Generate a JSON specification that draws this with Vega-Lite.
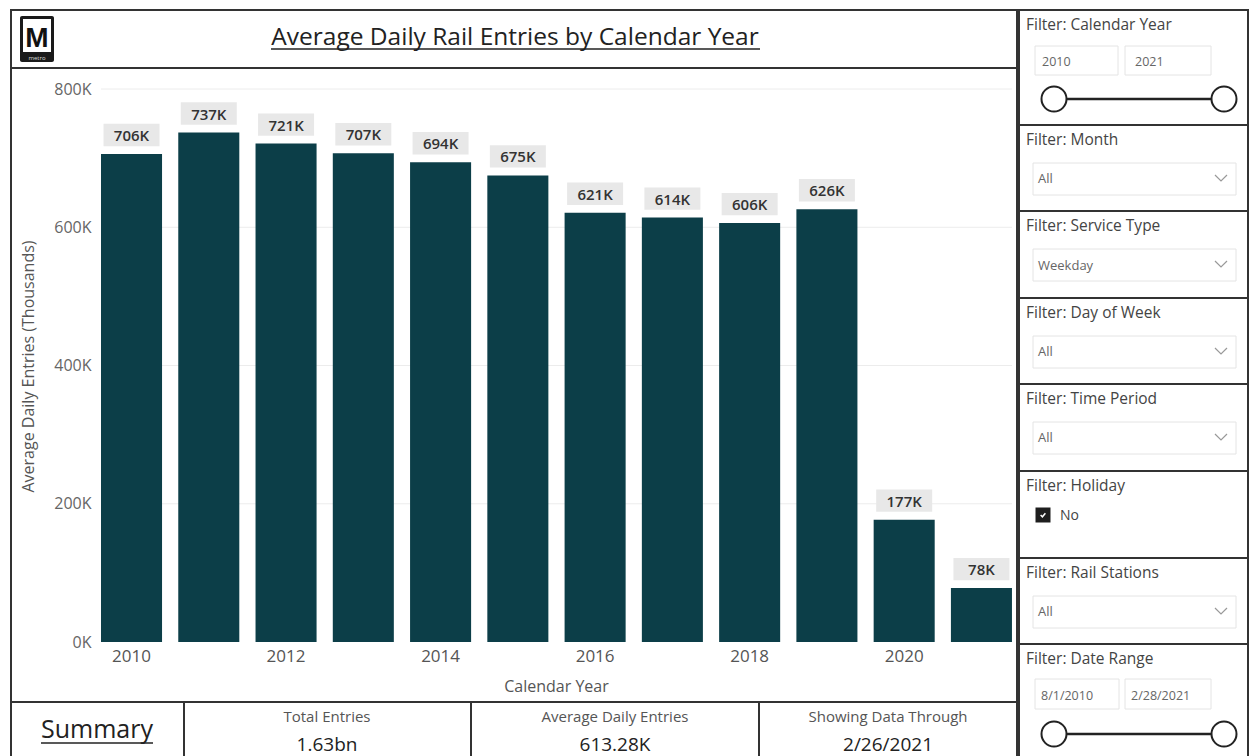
{
  "$schema": "https://vega.github.io/schema/vega-lite/v6.json",
  "background": "white",
  "padding": {"left": 9, "top": 8, "right": 0, "bottom": 0},
  "config": {
    "font": "Open Sans",
    "view": {"stroke": "#333333", "strokeWidth": 2},
    "concat": {"spacing": 0}
  },
  "spacing": -2,
  "hconcat": [
    {
      "spacing": 0,
      "bounds": "flush",
      "vconcat": [
        {
          "width": 1006,
          "height": 58,
          "data": {"values": [{"heading": "Average Daily Rail Entries by Calendar Year", "logo": "M", "brand": "metro"}]},
          "layer": [
            {"mark": {"type": "rect", "fill": null, "stroke": "#333333", "strokeWidth": 2, "x": 0, "x2": "width", "y": 0, "y2": "height"}, "encoding": {}},
            {"mark": {"type": "rect", "fill": "#1a1a1a", "cornerRadius": 2, "x": 9, "x2": 43, "y": 6, "y2": 52}, "encoding": {}},
            {"mark": {"type": "rect", "fill": "#ffffff", "x": 12, "x2": 40, "y": 9, "y2": 42}, "encoding": {}},
            {"mark": {"type": "text", "font": "Liberation Sans", "fontWeight": "bold", "fontSize": 28, "color": "#111111", "align": "center", "baseline": "alphabetic", "x": 26, "y": 37}, "encoding": {"text": {"field": "logo"}}},
            {"mark": {"type": "text", "fontSize": 6, "color": "#dddddd", "align": "center", "baseline": "middle", "x": 26, "y": 47.5}, "encoding": {"text": {"field": "brand"}}},
            {"mark": {"type": "text", "fontSize": 24.5, "color": "#222222", "align": "center", "baseline": "alphabetic", "x": 504, "y": 35}, "encoding": {"text": {"field": "heading"}}},
            {"mark": {"type": "rule", "color": "#222222", "strokeWidth": 1.5}, "encoding": {"x": {"value": 260}, "x2": {"value": 749}, "y": {"value": 39}}}
          ]
        },
        {
          "width": 1006,
          "height": 634,
          "data": {
            "values": [
              {"year": 2010, "entries": 706000},
              {"year": 2011, "entries": 737000},
              {"year": 2012, "entries": 721000},
              {"year": 2013, "entries": 707000},
              {"year": 2014, "entries": 694000},
              {"year": 2015, "entries": 675000},
              {"year": 2016, "entries": 621000},
              {"year": 2017, "entries": 614000},
              {"year": 2018, "entries": 606000},
              {"year": 2019, "entries": 626000},
              {"year": 2020, "entries": 177000},
              {"year": 2021, "entries": 78000}
            ]
          },
          "transform": [{"calculate": "format(datum.entries / 1000, 'd') + 'K'", "as": "label"}],
          "encoding": {
            "x": {
              "field": "year",
              "type": "ordinal",
              "scale": {"type": "band", "paddingInner": 0.21, "paddingOuter": 0.615, "align": 0.947},
              "axis": {
                "values": [2010, 2012, 2014, 2016, 2018, 2020],
                "orient": "bottom",
                "offset": -60,
                "domain": false,
                "ticks": false,
                "grid": false,
                "labelAngle": 0,
                "labelFontSize": 17,
                "labelColor": "#555555",
                "labelPadding": 6,
                "title": "Calendar Year",
                "titleFontSize": 16,
                "titleFontWeight": "normal",
                "titleColor": "#555555",
                "titleX": 545,
                "titleY": 44,
                "titleBaseline": "middle"
              }
            },
            "y": {
              "field": "entries",
              "type": "quantitative",
              "scale": {"domain": [-86800, 830400], "nice": false, "zero": false},
              "axis": {
                "values": [0, 200000, 400000, 600000, 800000],
                "labelExpr": "datum.value / 1000 + 'K'",
                "offset": -83,
                "domain": false,
                "ticks": false,
                "grid": false,
                "labelFontSize": 16,
                "labelColor": "#666666",
                "labelPadding": 3,
                "title": "Average Daily Entries (Thousands)",
                "titleFontSize": 16,
                "titleFontWeight": "normal",
                "titleColor": "#555555",
                "titleX": -66,
                "titleY": 298,
                "titleBaseline": "middle"
              }
            }
          },
          "layer": [
            {
              "data": {"values": [{"tick": 200000}, {"tick": 400000}, {"tick": 600000}, {"tick": 800000}]},
              "mark": {"type": "rule", "color": "#ececec", "strokeWidth": 1},
              "encoding": {
                "x": {"datum": 2010, "type": "ordinal", "bandPosition": 0},
                "x2": {"datum": 2021, "bandPosition": 1},
                "y": {"field": "tick", "type": "quantitative"}
              }
            },
            {"mark": {"type": "bar", "color": "#0c3e48"}},
            {
              "mark": {"type": "point", "shape": "M-1,-0.4H1V0.4H-1Z", "size": 3136, "filled": true, "color": "#e8e8e8", "opacity": 1, "yOffset": -19}
            },
            {
              "mark": {"type": "text", "fontSize": 15, "fontWeight": 600, "color": "#333333", "baseline": "middle", "yOffset": -18},
              "encoding": {"text": {"field": "label"}}
            }
          ]
        },
        {
          "spacing": 0,
          "bounds": "flush",
          "hconcat": [
            {
              "width": 173,
              "height": 57,
              "data": {"values": [{"head": "Summary"}]},
              "layer": [
                {"mark": {"type": "rect", "fill": null, "stroke": "#333333", "strokeWidth": 2, "x": 0, "x2": "width", "y": 0, "y2": "height"}, "encoding": {}},
                {"mark": {"type": "text", "fontSize": 25, "color": "#222222", "align": "center", "baseline": "alphabetic", "x": 86, "y": 36}, "encoding": {"text": {"field": "head"}}},
                {"mark": {"type": "rule", "color": "#222222", "strokeWidth": 1.5}, "encoding": {"x": {"value": 30}, "x2": {"value": 142}, "y": {"value": 41}}}
              ]
            },
            {
              "width": 287,
              "height": 57,
              "data": {"values": [{"head": "Total Entries", "figure": "1.63bn"}]},
              "layer": [
                {"mark": {"type": "rect", "fill": null, "stroke": "#333333", "strokeWidth": 2, "x": 0, "x2": "width", "y": 0, "y2": "height"}, "encoding": {}},
                {"mark": {"type": "text", "fontSize": 15, "color": "#555555", "align": "center", "baseline": "alphabetic", "x": 143, "y": 20}, "encoding": {"text": {"field": "head"}}},
                {"mark": {"type": "text", "fontSize": 19, "color": "#222222", "align": "center", "baseline": "alphabetic", "x": 143, "y": 49}, "encoding": {"text": {"field": "figure"}}}
              ]
            },
            {
              "width": 288,
              "height": 57,
              "data": {"values": [{"head": "Average Daily Entries", "figure": "613.28K"}]},
              "layer": [
                {"mark": {"type": "rect", "fill": null, "stroke": "#333333", "strokeWidth": 2, "x": 0, "x2": "width", "y": 0, "y2": "height"}, "encoding": {}},
                {"mark": {"type": "text", "fontSize": 15, "color": "#555555", "align": "center", "baseline": "alphabetic", "x": 144, "y": 20}, "encoding": {"text": {"field": "head"}}},
                {"mark": {"type": "text", "fontSize": 19, "color": "#222222", "align": "center", "baseline": "alphabetic", "x": 144, "y": 49}, "encoding": {"text": {"field": "figure"}}}
              ]
            },
            {
              "width": 258,
              "height": 57,
              "data": {"values": [{"head": "Showing Data Through", "figure": "2/26/2021"}]},
              "layer": [
                {"mark": {"type": "rect", "fill": null, "stroke": "#333333", "strokeWidth": 2, "x": 0, "x2": "width", "y": 0, "y2": "height"}, "encoding": {}},
                {"mark": {"type": "text", "fontSize": 15, "color": "#555555", "align": "center", "baseline": "alphabetic", "x": 129, "y": 20}, "encoding": {"text": {"field": "head"}}},
                {"mark": {"type": "text", "fontSize": 19, "color": "#222222", "align": "center", "baseline": "alphabetic", "x": 129, "y": 49}, "encoding": {"text": {"field": "figure"}}}
              ]
            }
          ]
        }
      ]
    },
    {
      "spacing": 0,
      "bounds": "flush",
      "vconcat": [
        {
          "width": 229,
          "height": 115,
          "data": {"values": [{"head": "Filter: Calendar Year", "from": "2010", "to": "2021"}]},
          "layer": [
            {"mark": {"type": "rect", "fill": null, "stroke": "#333333", "strokeWidth": 2, "x": 0, "x2": "width", "y": 0, "y2": "height"}, "encoding": {}},
            {"mark": {"type": "text", "fontSize": 15.5, "color": "#444444", "align": "left", "baseline": "alphabetic", "x": 7, "y": 20}, "encoding": {"text": {"field": "head"}}},
            {"mark": {"type": "rect", "fill": "#ffffff", "stroke": "#e4e4e4", "strokeWidth": 1, "x": 16, "x2": 99, "y": 36, "y2": 65}, "encoding": {}},
            {"mark": {"type": "rect", "fill": "#ffffff", "stroke": "#e4e4e4", "strokeWidth": 1, "x": 106, "x2": 192, "y": 36, "y2": 65}, "encoding": {}},
            {"mark": {"type": "text", "fontSize": 12.5, "color": "#666666", "align": "left", "baseline": "middle", "x": 23, "y": 52}, "encoding": {"text": {"field": "from"}}},
            {"mark": {"type": "text", "fontSize": 12.5, "color": "#666666", "align": "left", "baseline": "middle", "x": 116, "y": 52}, "encoding": {"text": {"field": "to"}}},
            {"mark": {"type": "rule", "color": "#222222", "strokeWidth": 2.5}, "encoding": {"x": {"value": 35}, "x2": {"value": 205}, "y": {"value": 89}}},
            {"mark": {"type": "point", "shape": "circle", "size": 625, "filled": true, "fill": "#ffffff", "stroke": "#222222", "strokeWidth": 2, "opacity": 1, "x": 35, "y": 89}, "encoding": {}},
            {"mark": {"type": "point", "shape": "circle", "size": 625, "filled": true, "fill": "#ffffff", "stroke": "#222222", "strokeWidth": 2, "opacity": 1, "x": 205, "y": 89}, "encoding": {}}
          ]
        },
        {
          "width": 229,
          "height": 86,
          "data": {"values": [{"head": "Filter: Month", "pick": "All"}]},
          "layer": [
            {"mark": {"type": "rect", "fill": null, "stroke": "#333333", "strokeWidth": 2, "x": 0, "x2": "width", "y": 0, "y2": "height"}, "encoding": {}},
            {"mark": {"type": "text", "fontSize": 15.5, "color": "#444444", "align": "left", "baseline": "alphabetic", "x": 7, "y": 20}, "encoding": {"text": {"field": "head"}}},
            {"mark": {"type": "rect", "fill": "#ffffff", "stroke": "#e4e4e4", "strokeWidth": 1, "x": 14, "x2": 217, "y": 38, "y2": 70}, "encoding": {}},
            {"mark": {"type": "text", "fontSize": 13, "color": "#666666", "align": "left", "baseline": "middle", "x": 19, "y": 54}, "encoding": {"text": {"field": "pick"}}},
            {"mark": {"type": "point", "shape": "M-1,-0.5L0,0.5L1,-0.5", "size": 144, "filled": false, "stroke": "#999999", "strokeWidth": 1.2, "opacity": 1, "x": 202, "y": 53}, "encoding": {}}
          ]
        },
        {
          "width": 229,
          "height": 87,
          "data": {"values": [{"head": "Filter: Service Type", "pick": "Weekday"}]},
          "layer": [
            {"mark": {"type": "rect", "fill": null, "stroke": "#333333", "strokeWidth": 2, "x": 0, "x2": "width", "y": 0, "y2": "height"}, "encoding": {}},
            {"mark": {"type": "text", "fontSize": 15.5, "color": "#444444", "align": "left", "baseline": "alphabetic", "x": 7, "y": 20}, "encoding": {"text": {"field": "head"}}},
            {"mark": {"type": "rect", "fill": "#ffffff", "stroke": "#e4e4e4", "strokeWidth": 1, "x": 14, "x2": 217, "y": 38, "y2": 70}, "encoding": {}},
            {"mark": {"type": "text", "fontSize": 13, "color": "#666666", "align": "left", "baseline": "middle", "x": 19, "y": 55}, "encoding": {"text": {"field": "pick"}}},
            {"mark": {"type": "point", "shape": "M-1,-0.5L0,0.5L1,-0.5", "size": 144, "filled": false, "stroke": "#999999", "strokeWidth": 1.2, "opacity": 1, "x": 202, "y": 53}, "encoding": {}}
          ]
        },
        {
          "width": 229,
          "height": 86,
          "data": {"values": [{"head": "Filter: Day of Week", "pick": "All"}]},
          "layer": [
            {"mark": {"type": "rect", "fill": null, "stroke": "#333333", "strokeWidth": 2, "x": 0, "x2": "width", "y": 0, "y2": "height"}, "encoding": {}},
            {"mark": {"type": "text", "fontSize": 15.5, "color": "#444444", "align": "left", "baseline": "alphabetic", "x": 7, "y": 20}, "encoding": {"text": {"field": "head"}}},
            {"mark": {"type": "rect", "fill": "#ffffff", "stroke": "#e4e4e4", "strokeWidth": 1, "x": 14, "x2": 217, "y": 38, "y2": 70}, "encoding": {}},
            {"mark": {"type": "text", "fontSize": 13, "color": "#666666", "align": "left", "baseline": "middle", "x": 19, "y": 54}, "encoding": {"text": {"field": "pick"}}},
            {"mark": {"type": "point", "shape": "M-1,-0.5L0,0.5L1,-0.5", "size": 144, "filled": false, "stroke": "#999999", "strokeWidth": 1.2, "opacity": 1, "x": 202, "y": 53}, "encoding": {}}
          ]
        },
        {
          "width": 229,
          "height": 87,
          "data": {"values": [{"head": "Filter: Time Period", "pick": "All"}]},
          "layer": [
            {"mark": {"type": "rect", "fill": null, "stroke": "#333333", "strokeWidth": 2, "x": 0, "x2": "width", "y": 0, "y2": "height"}, "encoding": {}},
            {"mark": {"type": "text", "fontSize": 15.5, "color": "#444444", "align": "left", "baseline": "alphabetic", "x": 7, "y": 20}, "encoding": {"text": {"field": "head"}}},
            {"mark": {"type": "rect", "fill": "#ffffff", "stroke": "#e4e4e4", "strokeWidth": 1, "x": 14, "x2": 217, "y": 38, "y2": 70}, "encoding": {}},
            {"mark": {"type": "text", "fontSize": 13, "color": "#666666", "align": "left", "baseline": "middle", "x": 19, "y": 54}, "encoding": {"text": {"field": "pick"}}},
            {"mark": {"type": "point", "shape": "M-1,-0.5L0,0.5L1,-0.5", "size": 144, "filled": false, "stroke": "#999999", "strokeWidth": 1.2, "opacity": 1, "x": 202, "y": 53}, "encoding": {}}
          ]
        },
        {
          "width": 229,
          "height": 87,
          "data": {"values": [{"head": "Filter: Holiday", "pick": "No"}]},
          "layer": [
            {"mark": {"type": "rect", "fill": null, "stroke": "#333333", "strokeWidth": 2, "x": 0, "x2": "width", "y": 0, "y2": "height"}, "encoding": {}},
            {"mark": {"type": "text", "fontSize": 15.5, "color": "#444444", "align": "left", "baseline": "alphabetic", "x": 7, "y": 20}, "encoding": {"text": {"field": "head"}}},
            {"mark": {"type": "point", "shape": "square", "size": 225, "filled": true, "color": "#1e1e1e", "opacity": 1, "x": 24, "y": 44}, "encoding": {}},
            {"mark": {"type": "point", "shape": "M-0.6,0L-0.15,0.45L0.6,-0.45", "size": 64, "filled": false, "stroke": "#ffffff", "strokeWidth": 1.5, "opacity": 1, "x": 24, "y": 44}, "encoding": {}},
            {"mark": {"type": "text", "fontSize": 14, "color": "#444444", "align": "left", "baseline": "middle", "x": 41, "y": 45}, "encoding": {"text": {"field": "pick"}}}
          ]
        },
        {
          "width": 229,
          "height": 86,
          "data": {"values": [{"head": "Filter: Rail Stations", "pick": "All"}]},
          "layer": [
            {"mark": {"type": "rect", "fill": null, "stroke": "#333333", "strokeWidth": 2, "x": 0, "x2": "width", "y": 0, "y2": "height"}, "encoding": {}},
            {"mark": {"type": "text", "fontSize": 15.5, "color": "#444444", "align": "left", "baseline": "alphabetic", "x": 7, "y": 20}, "encoding": {"text": {"field": "head"}}},
            {"mark": {"type": "rect", "fill": "#ffffff", "stroke": "#e4e4e4", "strokeWidth": 1, "x": 14, "x2": 217, "y": 38, "y2": 70}, "encoding": {}},
            {"mark": {"type": "text", "fontSize": 13, "color": "#666666", "align": "left", "baseline": "middle", "x": 19, "y": 54}, "encoding": {"text": {"field": "pick"}}},
            {"mark": {"type": "point", "shape": "M-1,-0.5L0,0.5L1,-0.5", "size": 144, "filled": false, "stroke": "#999999", "strokeWidth": 1.2, "opacity": 1, "x": 202, "y": 53}, "encoding": {}}
          ]
        },
        {
          "width": 229,
          "height": 115,
          "data": {"values": [{"head": "Filter: Date Range", "from": "8/1/2010", "to": "2/28/2021"}]},
          "layer": [
            {"mark": {"type": "rect", "fill": null, "stroke": "#333333", "strokeWidth": 2, "x": 0, "x2": "width", "y": 0, "y2": "height"}, "encoding": {}},
            {"mark": {"type": "text", "fontSize": 15.5, "color": "#444444", "align": "left", "baseline": "alphabetic", "x": 7, "y": 20}, "encoding": {"text": {"field": "head"}}},
            {"mark": {"type": "rect", "fill": "#ffffff", "stroke": "#e4e4e4", "strokeWidth": 1, "x": 16, "x2": 100, "y": 35, "y2": 65}, "encoding": {}},
            {"mark": {"type": "rect", "fill": "#ffffff", "stroke": "#e4e4e4", "strokeWidth": 1, "x": 106, "x2": 192, "y": 35, "y2": 65}, "encoding": {}},
            {"mark": {"type": "text", "fontSize": 12.5, "color": "#666666", "align": "left", "baseline": "middle", "x": 22, "y": 52}, "encoding": {"text": {"field": "from"}}},
            {"mark": {"type": "text", "fontSize": 12.5, "color": "#666666", "align": "left", "baseline": "middle", "x": 112, "y": 52}, "encoding": {"text": {"field": "to"}}},
            {"mark": {"type": "rule", "color": "#222222", "strokeWidth": 2.5}, "encoding": {"x": {"value": 35}, "x2": {"value": 205}, "y": {"value": 90}}},
            {"mark": {"type": "point", "shape": "circle", "size": 625, "filled": true, "fill": "#ffffff", "stroke": "#222222", "strokeWidth": 2, "opacity": 1, "x": 35, "y": 90}, "encoding": {}},
            {"mark": {"type": "point", "shape": "circle", "size": 625, "filled": true, "fill": "#ffffff", "stroke": "#222222", "strokeWidth": 2, "opacity": 1, "x": 205, "y": 90}, "encoding": {}}
          ]
        }
      ]
    }
  ]
}
